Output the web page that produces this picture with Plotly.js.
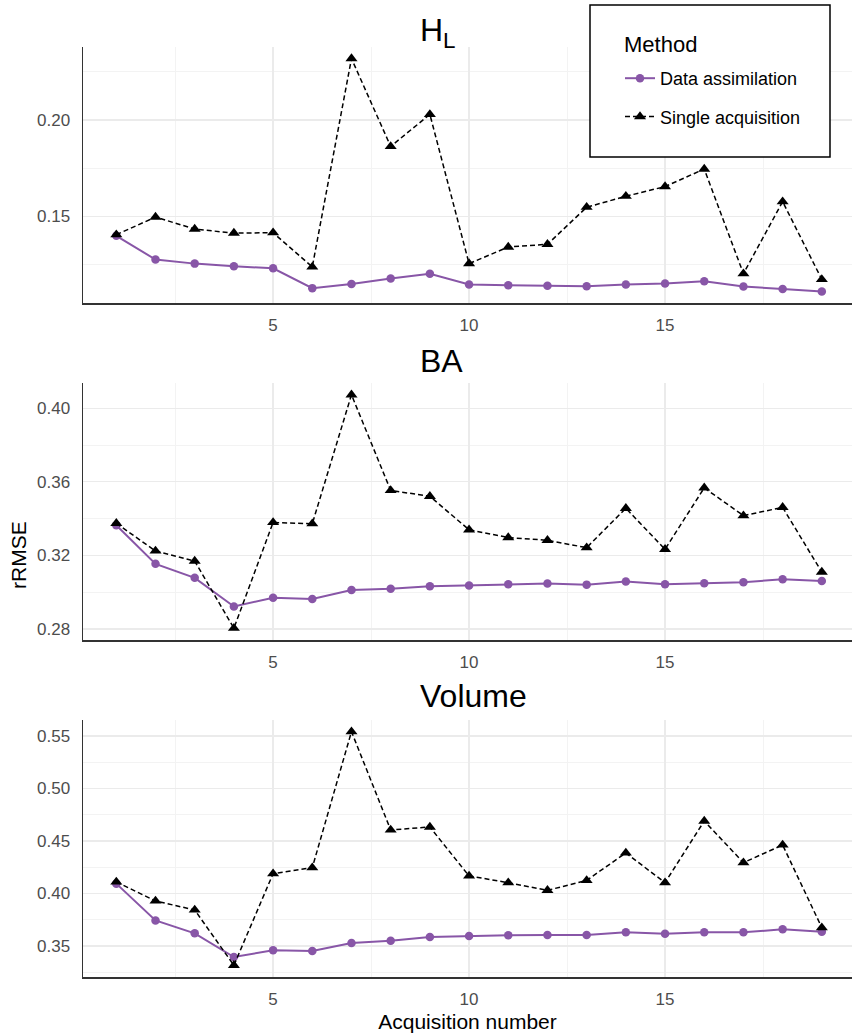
<!DOCTYPE html>
<html>
<head>
<meta charset="utf-8">
<script src="https://cdn.plot.ly/plotly-3.0.1.min.js"></script>
<style>html,body{margin:0;padding:0;background:#fff;}#chart{width:852px;height:1036px;}</style>
</head>
<body>
<div id="chart"></div>
<script>
// ---- data ----
const acquisition = [1,2,3,4,5,6,7,8,9,10,11,12,13,14,15,16,17,18,19];
const panelTitles = ['H<sub>L</sub>', 'BA', 'Volume'];
const seriesNames = ['Data assimilation', 'Single acquisition'];
const legendTitle = 'Method';

const hlAssim  = [0.1400,0.1277,0.1256,0.1242,0.1232,0.1129,0.1151,0.1179,0.1203,0.1148,0.1144,0.1141,0.1139,0.1148,0.1153,0.1165,0.1137,0.1125,0.1112];
const hlSingle = [0.1406,0.1497,0.1435,0.1414,0.1416,0.1239,0.2318,0.1863,0.2029,0.1256,0.1342,0.1356,0.1548,0.1605,0.1655,0.1746,0.1204,0.1577,0.1174];

const baAssim  = [0.3364,0.3154,0.3078,0.2922,0.2970,0.2963,0.3012,0.3019,0.3032,0.3036,0.3043,0.3047,0.3041,0.3058,0.3043,0.3048,0.3054,0.3070,0.3061];
const baSingle = [0.3374,0.3224,0.3169,0.2804,0.3379,0.3372,0.4073,0.3553,0.3521,0.3339,0.3297,0.3282,0.3242,0.3456,0.3233,0.3567,0.3416,0.3461,0.3109];

const volAssim  = [0.4094,0.3744,0.3621,0.3395,0.3459,0.3452,0.3529,0.3551,0.3586,0.3595,0.3602,0.3605,0.3605,0.3630,0.3617,0.3630,0.3630,0.3659,0.3637];
const volSingle = [0.4110,0.3929,0.3843,0.3316,0.4189,0.4246,0.5541,0.4605,0.4633,0.4167,0.4103,0.4030,0.4125,0.4386,0.4103,0.4690,0.4294,0.4462,0.3675];

const yTicks = [[0.15,0.20],[0.28,0.32,0.36,0.40],[0.35,0.40,0.45,0.50,0.55]];
const xTicks = [5,10,15];

// ---- styling ----
const PURPLE = '#8856a7';
const FONT = 'Liberation Sans, Arial, sans-serif';
const H = 1036;
const PW = 769;
const panels = [
  {assim: hlAssim,  single: hlSingle,  top: 47,  bot: 303, range:[0.1052,0.2378], minor:0.025},
  {assim: baAssim,  single: baSingle,  top: 383, bot: 640, range:[0.2740,0.4137], minor:0.02},
  {assim: volAssim, single: volSingle, top: 720, bot: 977, range:[0.3205,0.5652], minor:0.025}
];
const titleY = [33, 361, 696];

const traces = [];
const layout = {
  width: 852, height: H,
  margin: {l: 83, r: 0, t: 0, b: 0},
  paper_bgcolor: '#fff', plot_bgcolor: '#fff',
  font: {family: FONT, color: '#4d4d4d'},
  showlegend: true,
  legend: {
    x: (620-83)/PW, y: 1 - 60/H, xanchor: 'left', yanchor: 'top',
    bgcolor: 'rgba(0,0,0,0)', borderwidth: 0,
    font: {size: 18, color: '#000', family: FONT},
    traceorder: 'grouped', tracegroupgap: 12, itemwidth: 30
  },
  shapes: [{
    type: 'rect', xref: 'paper', yref: 'paper', layer: 'above',
    x0: (590-83)/PW, x1: (830-83)/PW, y0: 1-157/H, y1: 1-5/H,
    fillcolor: '#fff', line: {color: '#000', width: 1.5}
  }],
  annotations: [{
    text: legendTitle, xref: 'paper', yref: 'paper',
    x: (622-83)/PW, y: 1 - 45/H, xanchor: 'left', yanchor: 'middle',
    showarrow: false, font: {size: 22, color: '#000', family: FONT}
  }]
};

panels.forEach((p, i) => {
  const n = i === 0 ? '' : String(i+1);
  traces.push({
    x: acquisition, y: p.assim, xaxis: 'x'+n, yaxis: 'y'+n,
    name: seriesNames[0], legendgroup: 'a', showlegend: i === 0,
    mode: 'lines+markers', type: 'scatter',
    line: {color: PURPLE, width: 2},
    marker: {color: PURPLE, size: 8.5, symbol: 'circle'}
  });
  traces.push({
    x: acquisition, y: p.single, xaxis: 'x'+n, yaxis: 'y'+n,
    name: seriesNames[1], legendgroup: 'b', showlegend: i === 0,
    mode: 'lines+markers', type: 'scatter',
    line: {color: '#000', width: 1.5, dash: '5px,3px'},
    marker: {color: '#000', size: 10.5, symbol: 'triangle-up'}
  });
  const dom = [1 - p.bot/H, 1 - p.top/H];
  layout['xaxis'+n] = {
    domain: [0, 1], anchor: 'y'+n, range: [0.15, 19.77],
    tickvals: xTicks, ticktext: xTicks.map(String),
    showgrid: true, gridcolor: '#ebebeb', gridwidth: 1.2,
    minor: {dtick: 2.5, tick0: 0, showgrid: true, gridcolor: '#f3f3f3', gridwidth: 1},
    zeroline: false, showline: true, linecolor: '#333', linewidth: 1.5,
    ticks: '', tickfont: {size: 17, color: '#4d4d4d'}, ticklabelstandoff: 6,
    fixedrange: true
  };
  layout['yaxis'+n] = {
    domain: dom, anchor: 'x'+n, range: p.range,
    tickvals: yTicks[i], ticktext: yTicks[i].map(v => v.toFixed(2)),
    showgrid: true, gridcolor: '#ebebeb', gridwidth: 1.2,
    minor: {dtick: p.minor, tick0: 0, showgrid: true, gridcolor: '#f3f3f3', gridwidth: 1},
    zeroline: false, showline: true, linecolor: '#333', linewidth: 1.5,
    ticks: '', tickfont: {size: 17, color: '#4d4d4d'}, ticklabelstandoff: 8,
    fixedrange: true
  };
  layout.annotations.push({
    text: panelTitles[i], xref: 'paper', yref: 'paper',
    x: (418-83)/PW, y: 1 - titleY[i]/H, xanchor: 'left', yanchor: 'middle',
    showarrow: false, font: {size: 32, color: '#000', family: FONT}
  });
});
layout.xaxis3.title = {text: 'Acquisition number', font: {size: 21, color: '#000', family: FONT}, standoff: 6};
layout.annotations.push({
  text: 'rRMSE', xref: 'paper', yref: 'paper', x: (18-83)/PW, y: 1 - 555/H,
  xanchor: 'center', yanchor: 'middle', textangle: -90, showarrow: false,
  font: {size: 21, color: '#000', family: FONT}
});

Plotly.newPlot('chart', traces, layout, {displayModeBar: false, staticPlot: true});
</script>
</body>
</html>
